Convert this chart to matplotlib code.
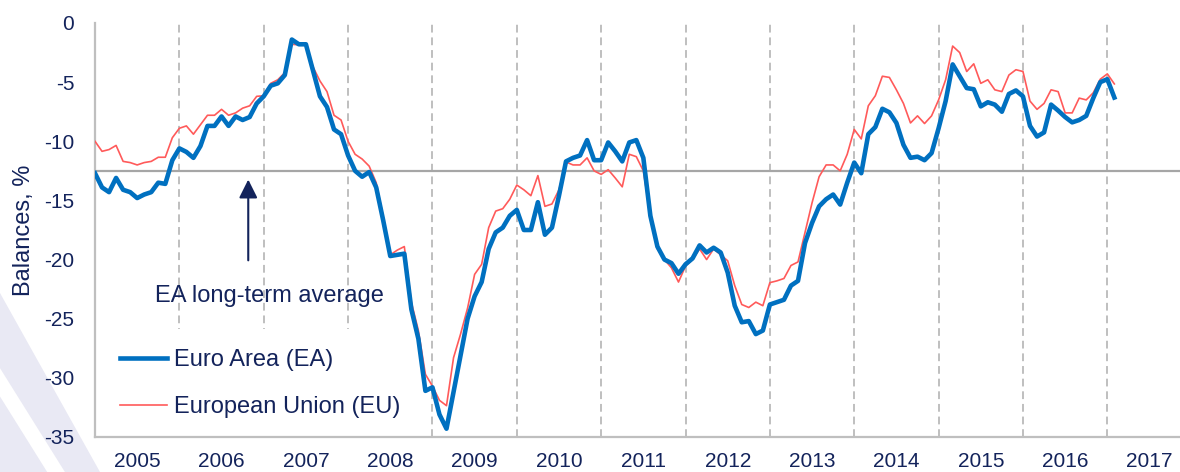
import matplotlib
matplotlib.use("Agg")
import matplotlib.pyplot as plt
from matplotlib.patches import Polygon, Rectangle
import numpy as np

# monthly balances, Jan 2005 .. Feb 2017
ea = [-12.7, -13.9, -14.3, -13.1, -14.1, -14.3, -14.8, -14.5, -14.3, -13.5, -13.6, -11.6,
      -10.6, -10.9, -11.4, -10.4, -8.7, -8.7, -7.9, -8.7, -7.9, -8.2, -7.95, -6.8,
      -6.2, -5.3, -5.1, -4.4, -1.4, -1.8, -1.8, -4.0, -6.2, -7.1, -9.0, -9.4,
      -11.2, -12.5, -13.0, -12.6, -13.9, -16.7, -19.7, -19.6, -19.5, -24.2, -26.7, -31.1,
      -30.8, -33.1, -34.3, -31.2, -28.1, -25.0, -23.1, -21.9, -19.1, -17.7, -17.3, -16.3,
      -15.8, -17.5, -17.5, -15.15, -17.9, -17.3, -14.6, -11.7, -11.4, -11.2, -9.9, -11.6,
      -11.6, -10.1, -10.85, -11.7, -10.1, -9.9, -11.4, -16.3, -18.9, -20.0, -20.3, -21.2,
      -20.4, -19.9, -18.8, -19.4, -19.0, -19.4, -21.1, -23.9, -25.3, -25.2, -26.3, -26.0,
      -23.8, -23.6, -23.4, -22.2, -21.8, -18.6, -16.9, -15.5, -14.9, -14.5, -15.35, -13.5,
      -11.8, -12.7, -9.4, -8.8, -7.25, -7.55, -8.45, -10.3, -11.4, -11.3, -11.6, -11.0,
      -8.9, -6.6, -3.5, -4.5, -5.5, -5.6, -7.05, -6.7, -6.9, -7.5, -6.0, -5.7,
      -6.2, -8.7, -9.6, -9.25, -6.9, -7.4, -7.95, -8.4, -8.2, -7.85, -6.35, -5.0,
      -4.75, -6.3]
eu = [-10.0, -10.85, -10.7, -10.35, -11.7, -11.8, -12.0, -11.8, -11.7, -11.35, -11.35, -9.7,
      -8.9, -8.7, -9.4, -8.6, -7.8, -7.8, -7.3, -7.8, -7.6, -7.2, -7.0, -6.2,
      -6.15, -5.1, -4.8, -4.2, -1.8, -1.85, -1.8, -3.7, -4.9, -5.8, -7.8, -8.2,
      -10.0, -11.1, -11.5, -12.1, -13.5, -16.4, -19.6, -19.2, -18.9, -23.6, -26.0, -29.7,
      -30.7, -31.9, -32.35, -28.3, -26.3, -24.1, -21.25, -20.4, -17.3, -15.9, -15.7, -14.9,
      -13.7, -14.1, -14.6, -12.9, -15.5, -15.3, -14.1, -11.75, -12.0, -12.0, -11.4, -12.5,
      -12.8, -12.4, -13.1, -13.85, -11.1, -11.3, -12.5, -16.3, -19.1, -20.0, -20.7, -21.9,
      -20.55, -20.0, -19.1, -20.0, -19.1, -19.6, -20.1, -22.2, -23.8, -24.05, -23.6, -23.9,
      -21.95, -21.8, -21.6, -20.5, -20.2, -17.7, -15.2, -13.0, -12.0, -12.0, -12.5, -11.1,
      -9.0, -9.8, -7.0, -6.15, -4.5, -4.6, -5.65, -6.8, -8.45, -7.85, -8.5, -7.85,
      -6.5, -4.8, -1.95, -2.5, -4.1, -3.45, -5.1, -4.8, -5.65, -5.8, -4.4, -3.95,
      -4.1, -6.6, -7.3, -6.8, -5.65, -5.8, -7.6, -7.6, -6.35, -6.5, -5.9, -4.75,
      -4.3, -5.15]
years = [str(y) for y in range(2005, 2018)]
ea_long_term_avg = -12.5
yticks = [0, -5, -10, -15, -20, -25, -30, -35]

navy = "#13235b"
plt.rcParams["font.family"] = ["Liberation Sans", "DejaVu Sans"]

fig = plt.figure(figsize=(11.8, 4.72), dpi=100)

# pale slide decoration bottom-left
fig.patches.append(Polygon([(0, 0.38), (0, 0), (0.085, 0)], closed=True,
                           transform=fig.transFigure, fc="#e9e9f4", ec="none", zorder=0))
fig.patches.append(Polygon([(0, 0.22), (0, 0.16), (0.04, 0), (0.055, 0)], closed=True,
                           transform=fig.transFigure, fc="white", ec="none", zorder=0))

ax = fig.add_axes([95 / 1180, 35 / 472, 1085 / 1180, 414 / 472])
ax.set_zorder(2)
ax.patch.set_alpha(0)

months = np.arange(len(ea))
ax.set_xlim(0, 1085 / 7.03)
ax.set_ylim(-35, 0)

# year separators
for k in range(1, len(years)):
    ax.axvline(12 * k, color="#bfbfbf", lw=1.4, ls=(0, (4, 2.5)), zorder=1)

# white box behind the legend hides the separators there
ax.add_patch(Rectangle((0.5, -35), 44.5, 9.1, fc="white", ec="none", zorder=1.5))

ax.axhline(ea_long_term_avg, color="#a6a6a6", lw=1.6, zorder=2)

ax.plot(months, eu, color="#ff5a5a", lw=1.2, zorder=3, label="European Union (EU)")
ax.plot(months, ea, color="#0070c0", lw=3.3, zorder=4, label="Euro Area (EA)")

for s in ["top", "right"]:
    ax.spines[s].set_visible(False)
for s in ["left", "bottom"]:
    ax.spines[s].set_color("#bfbfbf")
    ax.spines[s].set_linewidth(1.6)
    ax.spines[s].set_zorder(2.5)

ax.set_yticks(yticks)
ax.set_yticklabels([str(v) for v in yticks])
ax.set_xticks([12 * i + 6 for i in range(len(years))])
ax.set_xticklabels(years)
ax.tick_params(axis="y", length=0, pad=15, labelsize=15, labelcolor=navy)
ax.tick_params(axis="x", length=0, pad=11, labelsize=15, labelcolor=navy)

fig.text(24 / 1180, 1 - 230 / 472, "Balances, %", rotation=90, ha="center", va="center",
         fontsize=17, color=navy)

# arrow pointing at the long-term average
ax.annotate("", xy=(21.8, ea_long_term_avg - 0.5), xytext=(21.8, -20.3),
            arrowprops=dict(arrowstyle="-|>", color=navy, lw=1.5, mutation_scale=28),
            zorder=5)
ax.text(24.8, -23.1, "EA long-term average", ha="center", va="center", fontsize=17,
        color=navy, zorder=6)

h, l = ax.get_legend_handles_labels()
leg = ax.legend(h[::-1], l[::-1], loc="upper left", bbox_to_anchor=(0.023, 0.212),
                fontsize=17, frameon=False, handlelength=2.0, handletextpad=0.3,
                labelspacing=1.05, borderpad=0, borderaxespad=0)
for t in leg.get_texts():
    t.set_color(navy)

fig.savefig("out.png", dpi=100)
